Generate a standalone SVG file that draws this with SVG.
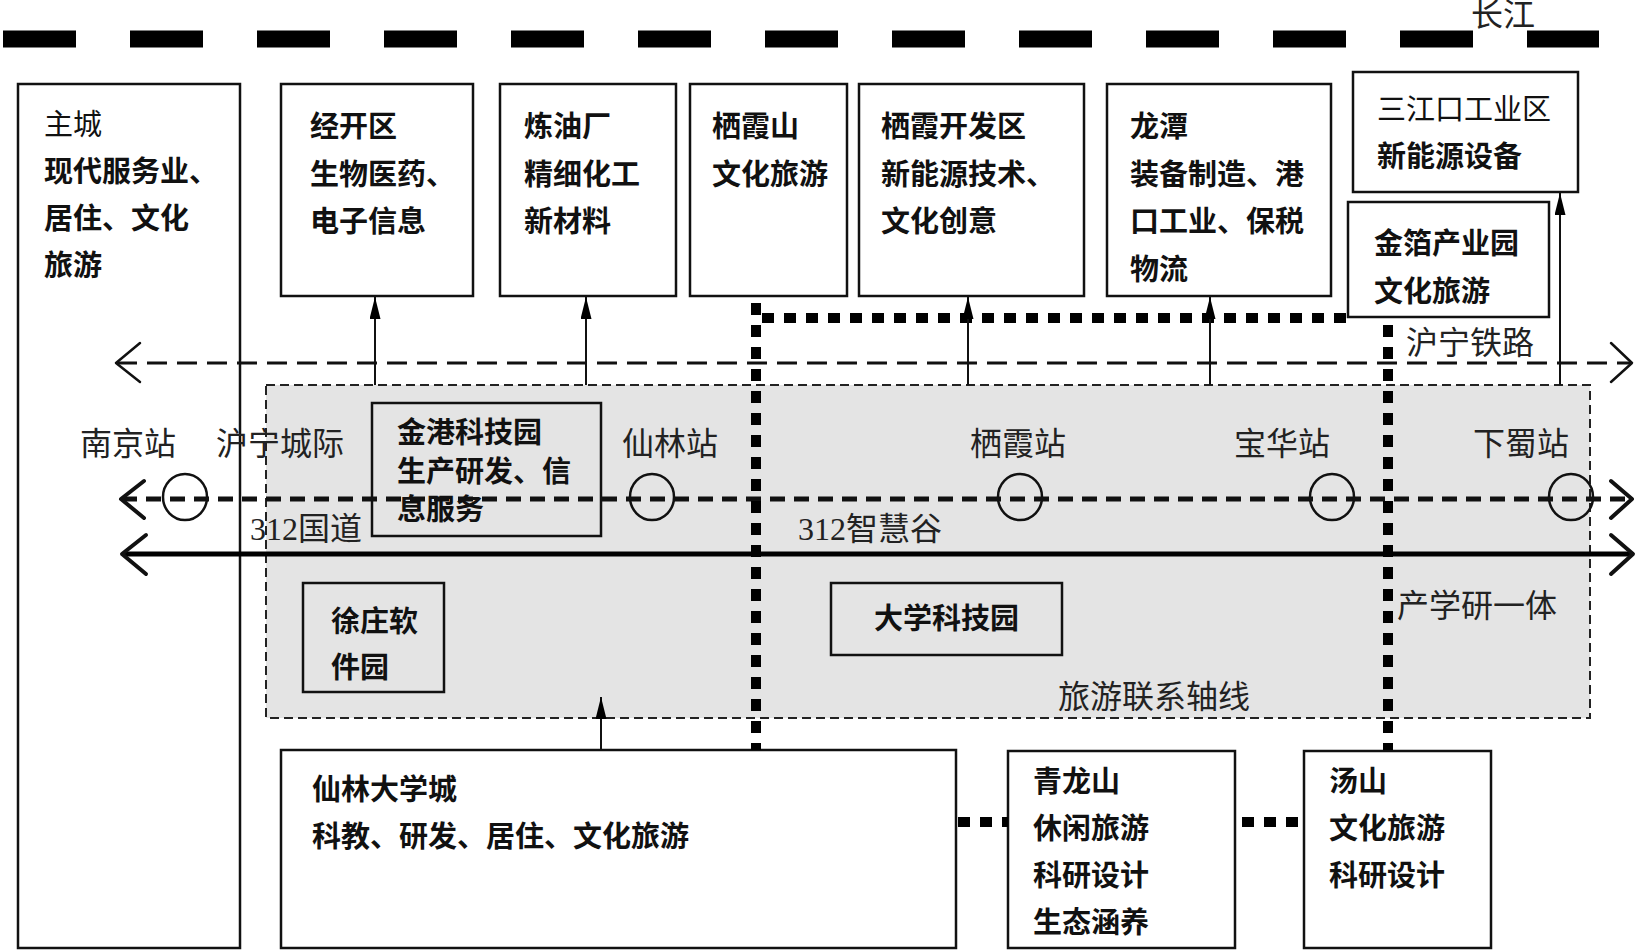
<svg xmlns="http://www.w3.org/2000/svg" width="1636" height="950" viewBox="0 0 1636 950">
<defs>
<marker id="ah" markerWidth="22" markerHeight="11" refX="22" refY="5.5" orient="auto" markerUnits="userSpaceOnUse" viewBox="0 0 22 11">
<path d="M0,0 L22,5.5 L0,11 Z" fill="#000"/>
</marker>
</defs>
<style>
.box{fill:#fff;stroke:#111;stroke-width:2.5}
.gbox{fill:#e4e4e4;stroke:#111;stroke-width:2.5}
.bt{font-family:"Noto Sans CJK SC","Liberation Sans",sans-serif;font-size:29px;font-weight:700;fill:#111}
.bn{font-family:"Noto Sans CJK SC","Liberation Sans",sans-serif;font-size:29px;font-weight:400;fill:#111}
.lb{font-family:"Liberation Serif","Noto Sans CJK SC",serif;font-size:32px;fill:#222}
.thin{stroke:#111;stroke-width:2;fill:none}
.dot{stroke:#000;stroke-width:10;stroke-dasharray:12 10;fill:none}
.chev{fill:none;stroke:#111;stroke-linecap:round;stroke-linejoin:round}
</style>
<rect width="1636" height="950" fill="#fff"/>

<g id="river">
<line x1="3" y1="39" x2="1599" y2="39" stroke="#000" stroke-width="17" stroke-dasharray="73 54"/>
<text class="lb" x="1471" y="26">长江</text>
</g>

<g id="zone">
<rect x="266" y="385" width="1324" height="333" fill="#e4e4e4" stroke="#222" stroke-width="2" stroke-dasharray="9 5"/>
<text class="lb" x="1397" y="617">产学研一体</text>
<text class="lb" x="1058" y="708">旅游联系轴线</text>
</g>

<g id="zhucheng">
<rect class="box" x="18" y="84" width="222" height="864" fill="none"/>
<text class="bn" x="44" y="135">主城</text>
<text class="bt" x="44" y="182">现代服务业、</text>
<text class="bt" x="44" y="229">居住、文化</text>
<text class="bt" x="44" y="276">旅游</text>
</g>

<g id="jingkaiqu">
<rect class="box" x="281" y="84" width="192" height="212"/>
<text class="bt" x="310" y="137">经开区</text>
<text class="bt" x="310" y="185">生物医药、</text>
<text class="bt" x="310" y="232">电子信息</text>
</g>

<g id="lianyouchang">
<rect class="box" x="500" y="84" width="176" height="212"/>
<text class="bt" x="524" y="137">炼油厂</text>
<text class="bt" x="524" y="185">精细化工</text>
<text class="bt" x="524" y="232">新材料</text>
</g>

<g id="qixiashan">
<rect class="box" x="690" y="84" width="157" height="212"/>
<text class="bt" x="712" y="137">栖霞山</text>
<text class="bt" x="712" y="185">文化旅游</text>
</g>

<g id="qixiakaifaqu">
<rect class="box" x="859" y="84" width="225" height="212"/>
<text class="bt" x="881" y="137">栖霞开发区</text>
<text class="bt" x="881" y="185">新能源技术、</text>
<text class="bt" x="881" y="232">文化创意</text>
</g>

<g id="longtan">
<rect class="box" x="1107" y="84" width="224" height="212"/>
<text class="bt" x="1130" y="137">龙潭</text>
<text class="bt" x="1130" y="185">装备制造、港</text>
<text class="bt" x="1130" y="232">口工业、保税</text>
<text class="bt" x="1130" y="280">物流</text>
</g>

<g id="sanjiangkou">
<rect class="box" x="1353" y="72" width="225" height="120"/>
<text class="bn" x="1377" y="120">三江口工业区</text>
<text class="bt" x="1377" y="167">新能源设备</text>
</g>

<g id="jinbo">
<rect class="box" x="1348" y="202" width="201" height="115"/>
<text class="bt" x="1374" y="254">金箔产业园</text>
<text class="bt" x="1374" y="302">文化旅游</text>
</g>

<g id="jingang">
<rect class="gbox" x="372" y="403" width="229" height="133"/>
<text class="bt" x="397" y="443">金港科技园</text>
<text class="bt" x="397" y="482">生产研发、信</text>
<text class="bt" x="397" y="520">息服务</text>
</g>

<g id="xuzhuang">
<rect class="gbox" x="303" y="583" width="141" height="109"/>
<text class="bt" x="331" y="632">徐庄软</text>
<text class="bt" x="331" y="678">件园</text>
</g>

<g id="daxuekejiyuan">
<rect class="gbox" x="831" y="583" width="231" height="72"/>
<text class="bt" x="874" y="629">大学科技园</text>
</g>

<g id="xianlin">
<rect class="box" x="281" y="750" width="675" height="198"/>
<text class="bt" x="312" y="800">仙林大学城</text>
<text class="bt" x="312" y="847">科教、研发、居住、文化旅游</text>
</g>

<g id="qinglongshan">
<rect class="box" x="1008" y="751" width="227" height="197"/>
<text class="bt" x="1033" y="792">青龙山</text>
<text class="bt" x="1033" y="839">休闲旅游</text>
<text class="bt" x="1033" y="886">科研设计</text>
<text class="bt" x="1033" y="933">生态涵养</text>
</g>

<g id="tangshan">
<rect class="box" x="1304" y="751" width="187" height="197"/>
<text class="bt" x="1329" y="792">汤山</text>
<text class="bt" x="1329" y="839">文化旅游</text>
<text class="bt" x="1329" y="886">科研设计</text>
</g>

<g id="connectors">
<!-- railway -->
<line x1="117" y1="363" x2="1630" y2="363" stroke="#111" stroke-width="3" stroke-dasharray="20 10"/>
<polyline class="chev" stroke-width="2.5" points="140,343 116,363 140,382"/>
<polyline class="chev" stroke-width="2.5" points="1611,343 1632,363 1611,382"/>
<!-- intercity -->
<line x1="122" y1="499" x2="1630" y2="499" stroke="#111" stroke-width="5" stroke-dasharray="15 9"/>
<polyline class="chev" stroke-width="4" points="144,481 121,499 144,518"/>
<polyline class="chev" stroke-width="4" points="1611,481 1632,499 1611,518"/>
<!-- road 312 -->
<line x1="124" y1="554" x2="1630" y2="554" stroke="#000" stroke-width="5"/>
<polyline class="chev" stroke-width="4" points="146,535 122,554 146,574"/>
<polyline class="chev" stroke-width="4" points="1611,535 1633,554 1611,574"/>
<!-- stations -->
<g fill="none" stroke="#111" stroke-width="2.5">
<ellipse cx="185" cy="497" rx="22" ry="23"/>
<ellipse cx="652" cy="497" rx="22" ry="23"/>
<ellipse cx="1020" cy="497" rx="22" ry="23"/>
<ellipse cx="1332" cy="497" rx="22" ry="23"/>
<ellipse cx="1571" cy="497" rx="22" ry="23"/>
</g>
<!-- thick dotted boundaries -->
<path class="dot" d="M756,303 V750"/>
<path class="dot" d="M762,318 H1352"/>
<path class="dot" d="M1388,325 V750"/>
<path class="dot" d="M958,822 H1008"/>
<path class="dot" d="M1242,822 H1302"/>
<!-- arrows -->
<line class="thin" x1="375" y1="385" x2="375" y2="297" marker-end="url(#ah)"/>
<line class="thin" x1="586" y1="385" x2="586" y2="297" marker-end="url(#ah)"/>
<line class="thin" x1="968" y1="385" x2="968" y2="297" marker-end="url(#ah)"/>
<line class="thin" x1="1210" y1="385" x2="1210" y2="297" marker-end="url(#ah)"/>
<line class="thin" x1="1560" y1="385" x2="1560" y2="193" marker-end="url(#ah)"/>
<line class="thin" x1="601" y1="750" x2="601" y2="697" marker-end="url(#ah)"/>
</g>

<g id="labels">
<text class="lb" x="80" y="455">南京站</text>
<text class="lb" x="216" y="455">沪宁城际</text>
<text class="lb" x="622" y="455">仙林站</text>
<text class="lb" x="970" y="455">栖霞站</text>
<text class="lb" x="1234" y="455">宝华站</text>
<text class="lb" x="1473" y="455">下蜀站</text>
<text class="lb" x="1406" y="354">沪宁铁路</text>
<text class="lb" x="250" y="540">312国道</text>
<text class="lb" x="798" y="540">312智慧谷</text>
</g>
</svg>
